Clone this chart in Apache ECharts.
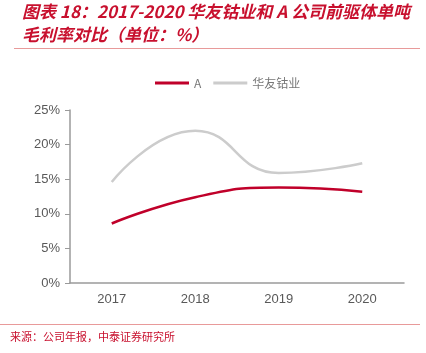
<!DOCTYPE html>
<html>
<head>
<meta charset="utf-8">
<script src="https://cdn.jsdelivr.net/npm/echarts@6/dist/echarts.min.js"></script>
<style>
  html, body { margin: 0; padding: 0; background: #fff; }
  #chart { width: 426px; height: 353px; }
</style>
</head>
<body>
<div id="chart"></div>
<script>
// data
const years = ["2017", "2018", "2019", "2020"];
const companyA = [8.6, 12.4, 13.8, 13.2];
const huayou = [14.6, 22.0, 15.9, 17.3];
const yTicks = [0, 5, 10, 15, 20, 25];

const red = "#c0002a";
const titleRed = "#c8102e";

let myChart = echarts.init(document.getElementById("chart"));

myChart.setOption({
  backgroundColor: "#fff",
  animation: false,
  grid: {
    left: 70,
    right: 22,
    top: 110,
    bottom: 70,
  },
  legend: {
    top: 72,
    left: 150,
    itemWidth: 34,
    itemHeight: 3,
    itemGap: 12,
    icon: "rect",
    textStyle: {
      color: "#777777",
      fontSize: 12,
      fontFamily: "Noto Sans CJK SC",
    },
    data: ["A", "华友钴业"],
  },
  xAxis: {
    type: "category",
    data: years,
    axisLine: { lineStyle: { color: "#9a9a9a", width: 1.5 } },
    axisTick: { lineStyle: { color: "#9a9a9a" } },
    axisLabel: {
      color: "#595959",
      fontSize: 13,
      margin: 10,
      fontFamily: "Liberation Sans",
    },
  },
  yAxis: {
    type: "value",
    min: yTicks[0],
    max: yTicks[yTicks.length - 1],
    interval: 5,
    axisLine: { show: true, lineStyle: { color: "#9a9a9a", width: 1.5 } },
    axisTick: { show: true, lineStyle: { color: "#9a9a9a" } },
    splitLine: { show: false },
    axisLabel: {
      color: "#595959",
      fontSize: 13,
      margin: 10,
      fontFamily: "Liberation Sans",
      formatter: "{value}%",
    },
  },
  series: [
    {
      name: "A",
      type: "line",
      data: companyA,
      smooth: true,
      showSymbol: false,
      itemStyle: { color: red },
      lineStyle: { color: red, width: 2.5 },
    },
    {
      name: "华友钴业",
      type: "line",
      data: huayou,
      smooth: true,
      showSymbol: false,
      itemStyle: { color: "#cccccc" },
      lineStyle: { color: "#cccccc", width: 2.5 },
    },
  ],
  graphic: [
    {
      type: "text",
      left: 22,
      top: 3,
      style: {
        text: "图表 18：2017-2020 华友钴业和 A 公司前驱体单吨",
        fill: titleRed,
        font: "italic bold 17px 'Noto Sans CJK SC'",
      },
    },
    {
      type: "text",
      left: 22,
      top: 26,
      style: {
        text: "毛利率对比（单位：%）",
        fill: titleRed,
        font: "italic bold 17px 'Noto Sans CJK SC'",
      },
    },
    {
      type: "rect",
      shape: { x: 14, y: 48, width: 406, height: 1 },
      style: { fill: "#e89a9a" },
    },
    {
      type: "rect",
      shape: { x: 0, y: 324, width: 420, height: 1 },
      style: { fill: "#e89a9a" },
    },
    {
      type: "text",
      left: 10,
      top: 331,
      style: {
        text: "来源：公司年报，中泰证券研究所",
        fill: titleRed,
        font: "11px 'Noto Sans CJK SC'",
      },
    },
  ],
});
</script>
</body>
</html>
